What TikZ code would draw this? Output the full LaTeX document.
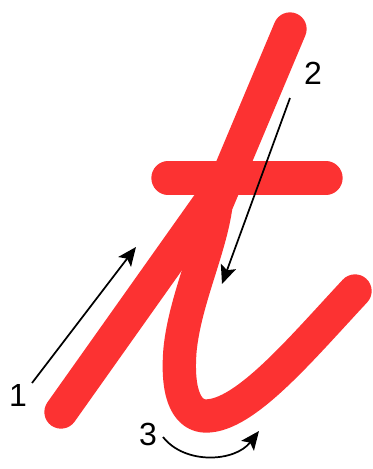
\documentclass[tikz,border=0pt]{standalone}
\usepackage{fontspec}
\setmainfont{Liberation Sans}
\usepackage{amsmath,amssymb,xcolor,tikz}
\usetikzlibrary{arrows.meta}

\definecolor{strokered}{RGB}{252,50,50}

\begin{document}
\begin{tikzpicture}[x=0.75pt,y=0.75pt,yscale=-1,xscale=1,
  letter/.style={draw=strokered,line width=25pt,line cap=round,line join=round},
  guide/.style={draw=black,line width=1.3pt,-{Stealth[length=14pt,width=12pt,inset=3pt]}},
  num/.style={inner sep=0.75pt,font=\fontsize{24}{26}\selectfont}]

\useasboundingbox (0,0) rectangle (373,469);

% stroke 1 (up)
\draw [letter]   (61,412) -- (217,192) ;

% stroke 2 (down, loop and exit)
\draw [letter]   (290,29) -- (216,205) .. controls (210,250) and (185,300) .. (180,350) .. controls (176,400) and (190,416) .. (206,416) .. controls (245,416) and (300,350) .. (355,291) ;

% cross bar
\draw [letter]   (168,178) -- (326,178) ;

% direction arrows
\coordinate (s1) at (32,383) ;
\coordinate (e1) at (136,247) ;
\coordinate (s2) at (290,98) ;
\coordinate (e2) at (222,284) ;
\coordinate (s3) at (163,437) ;
\coordinate (e3) at (259,431) ;

\draw [guide]   (s1) -- (e1) ;

\draw [guide]   (s2) -- (e2) ;

\draw [guide]   (s3) .. controls (185,465) and (235,462) .. (e3) ;

\draw (18,395) node (one) [num] {1};

\draw (313,73) node (two) [num] {2};

\draw (148,434) node (three) [num] {3};

\end{tikzpicture}
\end{document}
